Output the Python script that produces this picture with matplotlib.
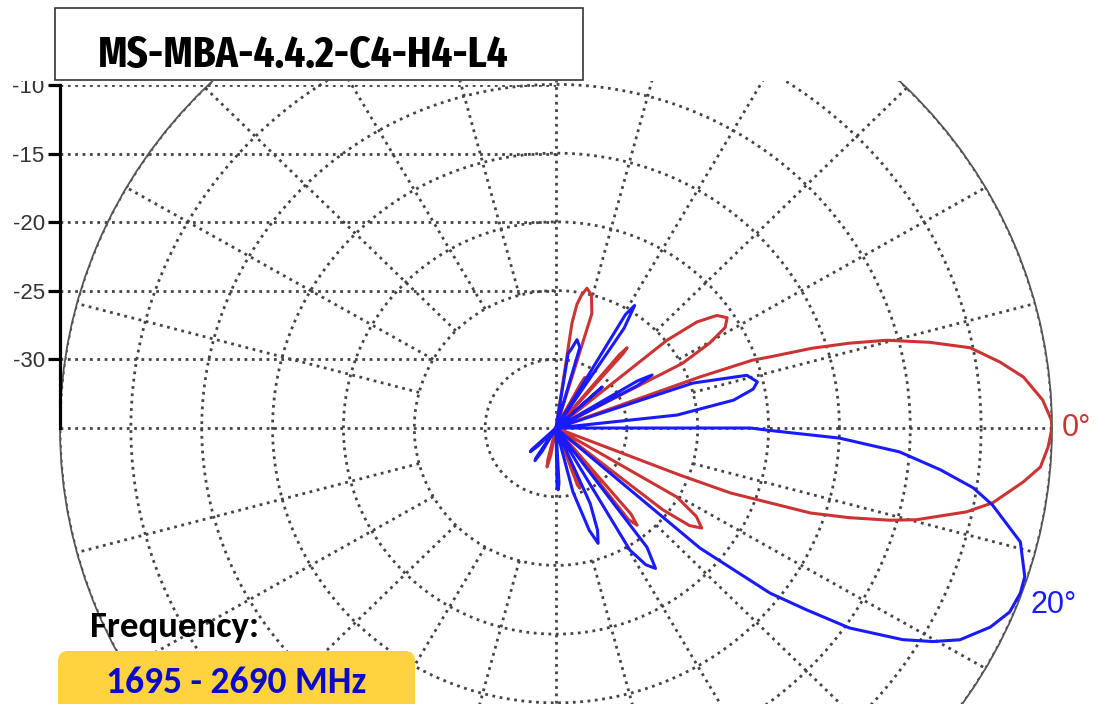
import numpy as np
import matplotlib.pyplot as plt
import matplotlib.transforms as mtransforms
from matplotlib.patches import Rectangle, FancyBboxPatch

# Elevation pattern data (angle in degrees, relative gain in dB)
red_ang = [-180, -107, -104, -102.5, -100.5, -98,
           -73, -70, -69, -68, -66,
           -55, -52.5, -51, -49.8, -47.5,
           -42, -38.3, -37, -35.3, -33, -30.5, -28,
           -22.3, -21.4, -21.0, -19.0, -17.5, -15.9, -14.7, -11.9, -10.0, -6.8, -4.75, -2.3,
           0, 1, 3.4, 6.4, 8.7, 11.3, 13.3, 15.3, 16.6, 17.8, 18.9, 19.6, 20.1, 20.8,
           26.5, 27.8, 29.7, 31.5, 33.6, 35.8, 37.8, 39.2, 40.5,
           47.5, 48.8, 49.3, 50, 51.2,
           59.8, 60.8, 61.1, 61.6, 62.5,
           71, 73.1, 75.5, 77.9, 79.5, 80.7, 81.6, 83.5,
           180]
red_db = [-35, -35, -32.6, -32.1, -33, -35,
          -35, -30.6, -30.3, -31, -35,
          -35, -26.6, -25.9, -26.8, -35,
          -35, -25.4, -23.2, -22.4, -23.2, -25.1, -35,
          -35, -25.6, -21.8, -16.0, -13.3, -10.5, -8.7, -5.4, -3.7, -1.8, -0.7, -0.25,
          0, -0.05, -0.6, -1.8, -3.3, -5.2, -7.9, -10.8, -13.4, -16.0, -19.0, -20.3, -24.2, -35,
          -35, -24.9, -22.5, -21.0, -20.5, -21.0, -22.4, -24.9, -35,
          -35, -27.8, -27.3, -28.0, -35,
          -35, -31.1, -30.8, -31.3, -35,
          -35, -26.3, -25.0, -24.6, -25.2, -25.9, -27.3, -35,
          -35]

blue_ang = [-180, -140, -137.5, -136.3, -134, -130,
            -126, -123, -122, -120, -117,
            -92, -89, -88, -87, -84.5,
            -78.5, -75.6, -72.5, -70.5, -68.5, -66.3, -63.5,
            -61.5, -59.6, -57.5, -55.5, -53.5, -51,
            -42.5, -40.7, -38.5, -36.8, -35.1, -32.2, -30.3, -28.4, -25.3, -22.7, -20.1, -18.1,
            -14.2, -10.3, -8.4, -6.4, -4.1, -2.1, -0.6, 0, 1.5,
            5, 6.3, 9.2, 11.5, 13.3, 15.9, 18.7, 20.5,
            26.5, 28.2, 29.6, 30.8, 32.5,
            41, 42.5, 44,
            54.5, 56.5, 58.1, 59.3, 61,
            72.5, 74, 77, 79.5, 81, 82.5,
            180]
blue_db = [-35, -35, -32.7, -32.5, -33.2, -35,
           -35, -32.4, -32.2, -33, -35,
           -35, -30.7, -30.5, -31, -35,
           -35, -30.2, -27.2, -26.1, -27.0, -29.0, -35,
           -35, -24.7, -23.2, -22.6, -24.2, -35,
           -35, -21.6, -15.7, -12.9, -9.7, -6.1, -4.2, -2.6, -1.1, -0.3, -0.1, -0.2,
           -1.2, -3.7, -5.25, -7.7, -10.7, -15.0, -20.1, -21.3, -35,
           -35, -26.4, -22.3, -20.8, -20.4, -21.0, -24.8, -35,
           -35, -28.5, -27.2, -28.3, -35,
           -35, -30.6, -35,
           -35, -26.3, -24.5, -25.4, -35,
           -35, -28.9, -28.4, -29.2, -29.5, -35,
           -35]

ring_levels = [-30, -25, -20, -15, -10, -5, 0]
spoke_angles = list(range(0, 360, 15))
axis_ticks = [-30, -25, -20, -15, -10]

W, H = 1097, 704
fig = plt.figure(figsize=(W / 100, H / 100), dpi=100)
# pixel coords measured from the top-left corner of the image
px = mtransforms.Affine2D().scale(1 / W, -1 / H).translate(0, 1) + fig.transFigure

RED = '#cc3333'
BLUE = '#1a1aff'
GRID = '#444444'

# polar plot (slightly wider than tall, like the original)
cx, cy, rx, ry = 556, 428, 496, 481
ax = fig.add_axes([(cx - rx) / W, 1 - (cy + ry) / H, 2 * rx / W, 2 * ry / H],
                  projection='polar')
ax.set_aspect('auto')
ax.set_ylim(-35, 0)
ax.set_xticks([])
ax.set_yticks([])
ax.grid(False)
ax.spines['polar'].set_color('#555555')
ax.spines['polar'].set_linewidth(1.3)

th = np.linspace(0, 2 * np.pi, 721)
for lev in ring_levels:
    ax.plot(th, np.full_like(th, lev), color=GRID, lw=2, ls=':', zorder=1)
for a in spoke_angles:
    r0 = -35 if a % 90 == 0 else -25
    ax.plot([np.deg2rad(a)] * 2, [r0, 0], color=GRID, lw=2, ls=':', zorder=1)

ax.plot(np.deg2rad(red_ang), red_db, color=RED, lw=2.2, zorder=3)
ax.plot(np.deg2rad(blue_ang), blue_db, color=BLUE, lw=2.2, zorder=3)

# left dB scale
ax2 = fig.add_axes([60 / W, 1 - 428 / H, (cx - 60) / W, (428 - 85) / H])
ax2.patch.set_alpha(0)
ax2.set_ylim(-35, -10)
ax2.set_xlim(0, 1)
ax2.set_xticks([])
ax2.set_yticks(axis_ticks)
ax2.set_yticklabels([str(t) for t in axis_ticks], family='Liberation Sans')
for s in ['top', 'right', 'bottom']:
    ax2.spines[s].set_visible(False)
ax2.spines['left'].set_linewidth(2.3)
ax2.spines['left'].set_color('black')
ax2.tick_params(axis='y', length=9, width=2.3, color='black', pad=2,
                labelsize=16, labelcolor='#333333')
ax2.yaxis.grid(True, color=GRID, lw=2, ls=':')

# angle labels
fig.text(1062, 428, '0°', transform=px, ha='left', va='center', color=RED,
         fontsize=22, family='Liberation Sans')
fig.text(1030, 605, '20°', transform=px, ha='left', va='center', color=BLUE,
         fontsize=22, family='Liberation Sans')

# white band on top hides the clipped part of the circle
fig.add_artist(Rectangle((0, 0), W, 81, transform=px, facecolor='white',
                         edgecolor='none', zorder=5))

# title box (title is set in a narrow face, fitted to the box width)
fig.add_artist(Rectangle((55, 8), 528, 72, transform=px, facecolor='white',
                         edgecolor='#333333', lw=1.2, zorder=6))
title = fig.text(303, 67, 'MS-MBA-4.4.2-C4-H4-L4', transform=px, ha='center',
                 va='baseline', fontsize=36, fontweight='bold',
                 family=['Fira Sans Extra Condensed', 'Carlito'], zorder=7)
renderer = fig.canvas.get_renderer()
tw = title.get_window_extent(renderer).width
title.set_fontsize(36 * 411 / tw)

# frequency note
fig.text(90, 637, 'Frequency:', transform=px, ha='left', va='baseline',
         fontsize=26.5, fontweight='bold', family='Carlito', zorder=7)
fig.add_artist(FancyBboxPatch((58, 651), 357, 80, transform=px,
                              boxstyle='round,pad=0,rounding_size=10',
                              facecolor='#ffd240', edgecolor='none', zorder=6))
fig.text(236, 693, '1695 - 2690 MHz', transform=px, ha='center', va='baseline',
         fontsize=27, fontweight='bold', family='Carlito', color='#0a0acd', zorder=7)

plt.savefig('out.png', dpi=100)
